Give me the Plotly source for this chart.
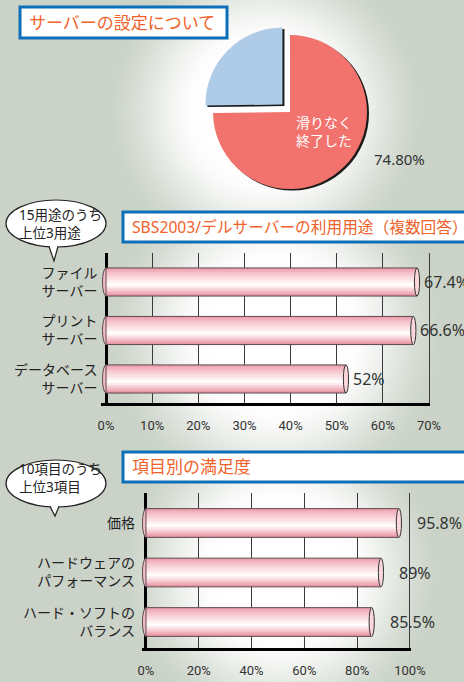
import base64
import struct
import zlib

import numpy as np
import plotly.graph_objects as go

# ---------------- data ----------------
pie_labels = ["滑りなく終了した", "その他"]
pie_values = [74.8, 25.2]
pie_inside_text = "滑りなく<br>終了した"

use_categories = ["ファイル<br>サーバー", "プリント<br>サーバー", "データベース<br>サーバー"]
use_values = [67.4, 66.6, 52]
use_value_text = ["67.4%", "66.6%", "52%"]
use_ticks = [0, 10, 20, 30, 40, 50, 60, 70]
use_tick_text = ["0%", "10%", "20%", "30%", "40%", "50%", "60%", "70%"]

sat_categories = ["価格", "ハードウェアの<br>パフォーマンス", "ハード・ソフトの<br>バランス"]
sat_values = [95.8, 89, 85.5]
sat_value_text = ["95.8%", "89%", "85.5%"]
sat_ticks = [0, 20, 40, 60, 80, 100]
sat_tick_text = ["0%", "20%", "40%", "60%", "80%", "100%"]

title1 = "サーバーの設定について"
title2 = "SBS2003/デルサーバーの利用用途（複数回答）"
title3 = "項目別の満足度"
bubble2 = "15用途のうち<br>上位3用途"
bubble3 = "10項目のうち<br>上位3項目"

# ---------------- helpers ----------------
W, H = 464, 682
JP = "Noto Sans, Noto Sans CJK JP, sans-serif"
NARROW = "Liberation Sans Narrow, Arial Narrow, Roboto, sans-serif"
BG = (203, 211, 200)


def px(x):
    return x / W


def py(y):
    return 1 - y / H


def make_png(arr):
    h, w, _ = arr.shape
    raw = b"".join(b"\x00" + arr[r].tobytes() for r in range(h))

    def chunk(tag, data):
        return (struct.pack(">I", len(data)) + tag + data
                + struct.pack(">I", zlib.crc32(tag + data) & 0xFFFFFFFF))

    return (b"\x89PNG\r\n\x1a\n"
            + chunk(b"IHDR", struct.pack(">IIBBBBB", w, h, 8, 2, 0, 0, 0))
            + chunk(b"IDAT", zlib.compress(raw, 9))
            + chunk(b"IEND", b""))


# background with soft radial glows
yy, xx = np.mgrid[0:H, 0:W].astype(float)
glow = np.zeros((H, W))
for cx, cy, R in [(265, 110, 165), (275, 335, 175), (280, 570, 165)]:
    t = np.sqrt((xx - cx) ** 2 + (yy - cy) ** 2) / R
    s = np.clip((1 - t) / 0.62, 0, 1)
    glow = np.maximum(glow, s * s * (3 - 2 * s))
bg = np.array(BG, float)
img = bg[None, None, :] + (255 - bg)[None, None, :] * glow[:, :, None]
img = np.clip(img, 0, 255).astype(np.uint8)
bg_src = "data:image/png;base64," + base64.b64encode(make_png(img)).decode()

# bar gradient (top -> bottom)
grad_stops = [(0.0, (236, 152, 168)), (0.15, (244, 188, 198)), (0.4, (251, 226, 230)),
              (0.6, (255, 255, 255)), (0.8, (247, 201, 209)), (1.0, (230, 140, 156))]


def grad_color(t):
    for (t0, c0), (t1, c1) in zip(grad_stops[:-1], grad_stops[1:]):
        if t0 <= t <= t1:
            f = (t - t0) / (t1 - t0)
            c = [round(a + (b - a) * f) for a, b in zip(c0, c1)]
            return "rgb(%d,%d,%d)" % tuple(c)
    return "rgb(%d,%d,%d)" % grad_stops[-1][1]


BAR_W = 0.58
N_STRIPS = 14

fig = go.Figure()

# ---------------- pie ----------------
pull = 0.138
pcx, pcy, pr = 290, 112, 77
half = pr * (1 + pull)
for dx, dy, colors in [(2.0, 1.5, ["#1a1a1a", "#1a1a1a"]), (0, 0, ["#f2736d", "#aecbe8"])]:
    fig.add_trace(go.Pie(
        labels=pie_labels, values=pie_values, sort=False, direction="clockwise",
        rotation=0, pull=[0, pull], textinfo="none", hoverinfo="skip",
        marker=dict(colors=colors, line=dict(width=0)),
        domain=dict(x=[px(pcx + dx - half), px(pcx + dx + half)],
                    y=[py(pcy + dy + half), py(pcy + dy - half)]),
        showlegend=False,
    ))


# ---------------- bar charts ----------------
def add_bar_chart(cats, vals, xa, ya):
    h = BAR_W / N_STRIPS
    for k in range(N_STRIPS):
        wk = h * 1.6 if k < N_STRIPS - 1 else h
        fig.add_trace(go.Bar(
            x=vals, y=cats, orientation="h", width=wk, offset=-BAR_W / 2 + k * h,
            marker=dict(color=grad_color((k + 0.5) / N_STRIPS), line=dict(width=0)),
            xaxis=xa, yaxis=ya, hoverinfo="skip", showlegend=False,
        ))
    fig.add_trace(go.Bar(
        x=vals, y=cats, orientation="h", width=BAR_W, offset=-BAR_W / 2,
        marker=dict(color="rgba(0,0,0,0)", line=dict(color="#5a4a4e", width=1)),
        xaxis=xa, yaxis=ya, hoverinfo="skip", showlegend=False,
    ))


add_bar_chart(use_categories, use_values, "x", "y")
add_bar_chart(sat_categories, sat_values, "x2", "y2")

shapes = []
annotations = []


def caps_and_labels(cats, vals, texts, xref, yref, shift):
    for i, (c, v, t) in enumerate(zip(cats, vals, texts)):
        shapes.append(dict(type="circle", xref=xref, yref=yref, xsizemode="pixel",
                           xanchor=0, x0=-3.5, x1=3.5, y0=i - BAR_W / 2, y1=i + BAR_W / 2,
                           fillcolor="#f4bcc6", line=dict(color="#5a4a4e", width=1),
                           layer="between"))
        shapes.append(dict(type="circle", xref=xref, yref=yref, xsizemode="pixel",
                           xanchor=v, x0=-2.6, x1=2.6, y0=i - BAR_W / 2, y1=i + BAR_W / 2,
                           fillcolor="#fbd6dc", line=dict(color="#333333", width=1),
                           layer="above"))
        annotations.append(dict(xref=xref, yref=yref, x=v, y=c, text=t, showarrow=False,
                                xanchor="left", yanchor="middle", xshift=shift,
                                font=dict(family=JP, size=16, color="#333333")))


caps_and_labels(use_categories, use_values, use_value_text, "x", "y", 5)
caps_and_labels(sat_categories, sat_values, sat_value_text, "x2", "y2", 16)

# title boxes
for (x0, y0, x1, y1, text, tx, fs) in [(20, 7, 227, 38, title1, 27, 17),
                                       (123, 212, 475, 242, title2, 130, 15.7),
                                       (123, 452, 475, 482, title3, 130, 17)]:
    shapes.append(dict(type="rect", xref="paper", yref="paper", x0=px(x0), x1=px(x1),
                       y0=py(y1), y1=py(y0), fillcolor="white",
                       line=dict(color="#0d6fb8", width=3), layer="above"))
    annotations.append(dict(xref="paper", yref="paper", x=px(tx), y=py((y0 + y1) / 2),
                            text=text, showarrow=False, xanchor="left", yanchor="middle",
                            font=dict(family=JP, size=fs, color="#f0622a")))

# speech bubbles
for (ex0, ey0, ex1, ey1, tipx, tipy, text, ty) in [(6, 200, 106, 247, 54, 261, bubble2, 224),
                                                   (6, 460, 106, 507, 55, 516, bubble3, 478)]:
    shapes.append(dict(type="circle", xref="paper", yref="paper", x0=px(ex0), x1=px(ex1),
                       y0=py(ey1), y1=py(ey0), fillcolor="white",
                       line=dict(color="#222222", width=1.2), layer="above"))
    b0, b1 = tipx - 5, tipx + 4
    base_y = ey1 - 3
    shapes.append(dict(type="path", xref="paper", yref="paper",
                       path="M %f,%f L %f,%f L %f,%f Z" % (px(b0), py(base_y), px(tipx), py(tipy),
                                                          px(b1), py(base_y)),
                       fillcolor="white", line=dict(width=0), layer="above"))
    shapes.append(dict(type="path", xref="paper", yref="paper",
                       path="M %f,%f L %f,%f L %f,%f" % (px(b0), py(ey1 - 0.5), px(tipx), py(tipy),
                                                        px(b1), py(ey1 - 0.5)),
                       line=dict(color="#222222", width=1.2), layer="above"))
    annotations.append(dict(xref="paper", yref="paper", x=px(17), y=py(ty), text=text,
                            showarrow=False, xanchor="left", yanchor="middle", align="left",
                            font=dict(family=JP, size=13.5, color="#222222")))

# pie labels
annotations.append(dict(xref="paper", yref="paper", x=px(294), y=py(131.5), text=pie_inside_text,
                        showarrow=False, xanchor="left", yanchor="middle", align="left",
                        font=dict(family=JP, size=14, color="white")))
annotations.append(dict(xref="paper", yref="paper", x=px(372), y=py(159),
                        text="%.2f%%" % pie_values[0], showarrow=False, xanchor="left",
                        yanchor="middle", font=dict(family=JP, size=15, color="#333333")))


def xaxis_cfg(dom, rng, ticks, ticktext):
    return dict(domain=dom, range=rng, tickmode="array", tickvals=ticks, ticktext=ticktext,
                showgrid=True, gridcolor="#3a3a3a", gridwidth=1.4,
                zeroline=True, zerolinecolor="#000000", zerolinewidth=3,
                showline=True, linecolor="#000000", linewidth=3, automargin=False,
                ticks="", ticklabelstandoff=9, layer="below traces", fixedrange=True,
                tickfont=dict(family=NARROW, size=13, color="#333333"))


def yaxis_cfg(dom, rng, standoff):
    return dict(domain=dom, type="category", range=rng, showgrid=False, zeroline=False,
                showline=False, ticks="", ticklabelstandoff=standoff, layer="below traces",
                automargin=False, fixedrange=True,
                tickfont=dict(family=JP, size=14, color="#222222"))


fig.update_layout(
    width=W, height=H, margin=dict(l=0, r=0, t=0, b=0, pad=0), autosize=False,
    paper_bgcolor="rgb(%d,%d,%d)" % BG, plot_bgcolor="rgba(0,0,0,0)",
    barmode="overlay", showlegend=False,
    xaxis=xaxis_cfg([px(101.4), px(430.4)], [-1, 70.3], use_ticks, use_tick_text) | dict(anchor="y"),
    yaxis=yaxis_cfg([py(402.5), py(253)], [2.485, -0.598], 3) | dict(anchor="x"),
    xaxis2=xaxis_cfg([px(142.0), px(411.3)], [-1.5, 100.5], sat_ticks, sat_tick_text) | dict(anchor="y2"),
    yaxis2=yaxis_cfg([py(647.5), py(493)], [2.515, -0.606], 6) | dict(anchor="x2"),
    shapes=shapes, annotations=annotations,
    images=[dict(source=bg_src, xref="paper", yref="paper", x=0, y=1, sizex=1, sizey=1,
                 sizing="stretch", xanchor="left", yanchor="top", layer="below")],
)

fig.write_html(
    "out.html",
    config={"displayModeBar": False, "responsive": False},
    post_script="document.body.style.margin='0';document.body.style.padding='0';"
                "document.body.style.overflow='hidden';",
)
